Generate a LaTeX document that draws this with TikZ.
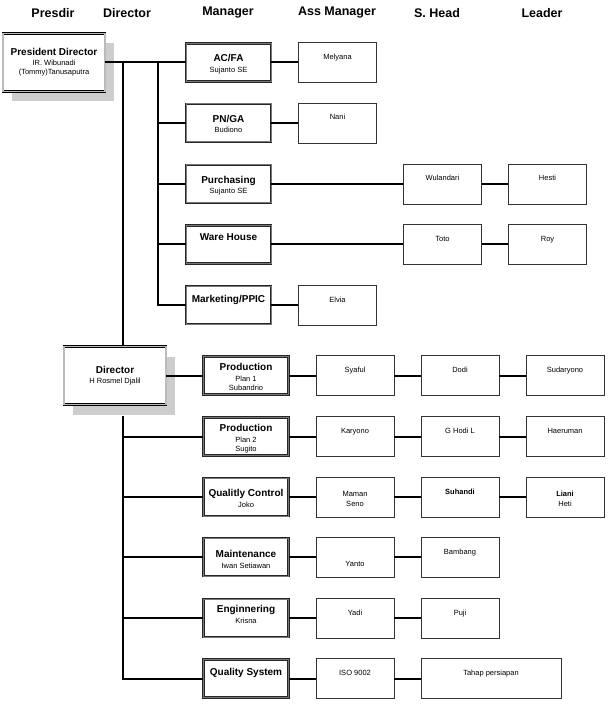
\documentclass[tikz,border=0pt]{standalone}
\usepackage{fontspec}
\setmainfont{Liberation Sans}
\usetikzlibrary{shadows}
\definecolor{gris}{RGB}{120,120,120}
\definecolor{ombre}{RGB}{205,205,205}
\newcommand{\jabatan}[1]{{\fontsize{10}{12}\selectfont\bfseries #1}}

\begin{document}
\begin{tikzpicture}[x=1pt, y=-1pt, font=\fontsize{7.5}{9.5}\selectfont,
	kepala/.style={font=\fontsize{12.5}{15}\selectfont\bfseries},
	boss/.style={draw=black, line width=0.5pt, double=gris!50, double distance=1.2pt, fill=white,
		minimum width=102pt, minimum height=58pt, align=center,
		drop shadow={shadow xshift=9pt, shadow yshift=-10pt, fill=ombre, opacity=1}},
	mgr/.style={draw=black!85, line width=0.7pt, double=gris, double distance=1pt,
		minimum width=85pt, minimum height=38pt, inner sep=0pt, align=center,
		text height=29pt, text depth=9pt},
	kotak/.style={draw=black!80, line width=0.7pt, minimum width=78pt, minimum height=40pt,
		inner sep=0pt, align=center, text height=17pt, text depth=23pt},
	garis/.style={line width=2pt}]
				\useasboundingbox (0,0) rectangle (609,708);
				% judul kolom
				\node[kepala] (hpresdir) at (53,13) {Presdir};
				\node[kepala] (hdir) at (127,13) {Director};
				\node[kepala] (hmgr) at (228,13) {Manager};
				\node[kepala] (hass) at (337,13) {Ass Manager};
				\node[kepala] (hsh) at (437,13) {S. Head};
				\node[kepala] (hlead) at (542,13) {Leader};
				% presdir dan director
				\node[boss] (pres) at (54,62.5) {\jabatan{President Director}\\ IR. Wibunadi\\ (Tommy)Tanusaputra};
				\node[boss] (dir) at (115,375.5) {\jabatan{Director}\\[1pt] H Rosmel Djalil};
				% manager bagian atas
				\node[mgr] (acfa) at (228.5,62.5) {\jabatan{AC/FA}\\[1pt] Sujanto SE};
				\node[mgr] (pnga) at (228.5,123) {\jabatan{PN/GA}\\[1pt] Budiono};
				\node[mgr] (purch) at (228.5,184) {\jabatan{Purchasing}\\[1pt] Sujanto SE};
				\node[mgr, text height=15pt, text depth=23pt] (wh) at (228.5,244.5) {\jabatan{Ware House}};
				\node[mgr, text height=16pt, text depth=22pt] (mkt) at (228.5,305) {\jabatan{Marketing/PPIC}};
				\node[kotak] (melyana) at (337.5,62.5) {Melyana};
				\node[kotak] (nani) at (337.5,123) {Nani};
				\node[kotak] (elvia) at (337.5,305) {Elvia};
				\node[kotak] (wulandari) at (442.5,184) {Wulandari};
				\node[kotak] (toto) at (442.5,244.5) {Toto};
				\node[kotak] (hesti) at (547.5,184) {Hesti};
				\node[kotak] (roy) at (547.5,244.5) {Roy};
				% manager bagian bawah
				\node[mgr, text height=34pt, text depth=4pt] (prod1) at (246,375.5) {\jabatan{Production}\\[1pt] Plan 1\\ Subandrio};
				\node[mgr, text height=34pt, text depth=4pt] (prod2) at (246,436.5) {\jabatan{Production}\\[1pt] Plan 2\\ Sugito};
				\node[mgr] (qc) at (246,497) {\jabatan{Qualitly Control}\\[1pt] Joko};
				\node[mgr, text height=30pt, text depth=8pt] (maint) at (246,557) {\jabatan{Maintenance}\\[1pt] Iwan Setiawan};
				\node[mgr, text height=24pt, text depth=14pt] (eng) at (246,618) {\jabatan{Enginnering}\\[1pt] Krisna};
				\node[mgr, text height=16pt, text depth=22pt] (qs) at (246,678.5) {\jabatan{Quality System}};
				\node[kotak] (syaful) at (355,375.5) {Syaful};
				\node[kotak] (karyono) at (355,436.5) {Karyono};
				\node[kotak, text height=29pt, text depth=11pt] (maman) at (355,497) {Maman\\ Seno};
				\node[kotak, text height=29pt, text depth=11pt] (yanto) at (355,557) {Yanto};
				\node[kotak] (yadi) at (355,618) {Yadi};
				\node[kotak] (iso) at (355,678.5) {ISO 9002};
				\node[kotak] (dodi) at (460,375.5) {Dodi};
				\node[kotak] (ghodi) at (460,436.5) {G Hodi L};
				\node[kotak] (suhandi) at (460,497) {\bfseries Suhandi};
				\node[kotak] (bambang) at (460,557) {Bambang};
				\node[kotak] (puji) at (460,618) {Puji};
				\node[kotak, minimum width=140pt] (tahap) at (491,678.5) {Tahap persiapan};
				\node[kotak] (sudaryono) at (565,375.5) {Sudaryono};
				\node[kotak] (haeruman) at (565,436.5) {Haeruman};
				\node[kotak, text height=29pt, text depth=11pt] (liani) at (565,497) {\bfseries Liani\\ Heti};
				% garis hubungan
				\coordinate (jd) at (123,62.5);
				\coordinate (jm) at (158,62.5);
				\coordinate (tb) at (123,416);
				\draw[garis] (pres.east |- jd) -- (acfa.west);
				\draw[garis] (jd) -- (jd |- dir.north);
				\draw[garis] (jm) -- (jm |- mkt.west) -- (mkt.west);
				\foreach \m in {pnga,purch,wh}
					\draw[garis] (jm |- \m.west) -- (\m.west);
				\draw[garis] (acfa) -- (melyana);
				\draw[garis] (pnga) -- (nani);
				\draw[garis] (purch) -- (wulandari) -- (hesti);
				\draw[garis] (wh) -- (toto) -- (roy);
				\draw[garis] (mkt) -- (elvia);
				\draw[garis] (dir) -- (prod1) -- (syaful) -- (dodi) -- (sudaryono);
				\draw[garis] (tb) -- (tb |- qs.west) -- (qs.west);
				\foreach \m in {prod2,qc,maint,eng}
					\draw[garis] (tb |- \m.west) -- (\m.west);
				\draw[garis] (prod2) -- (karyono) -- (ghodi) -- (haeruman);
				\draw[garis] (qc) -- (maman) -- (suhandi) -- (liani);
				\draw[garis] (maint) -- (yanto) -- (bambang);
				\draw[garis] (eng) -- (yadi) -- (puji);
				\draw[garis] (qs) -- (iso) -- (tahap);
			\end{tikzpicture}
\end{document}
